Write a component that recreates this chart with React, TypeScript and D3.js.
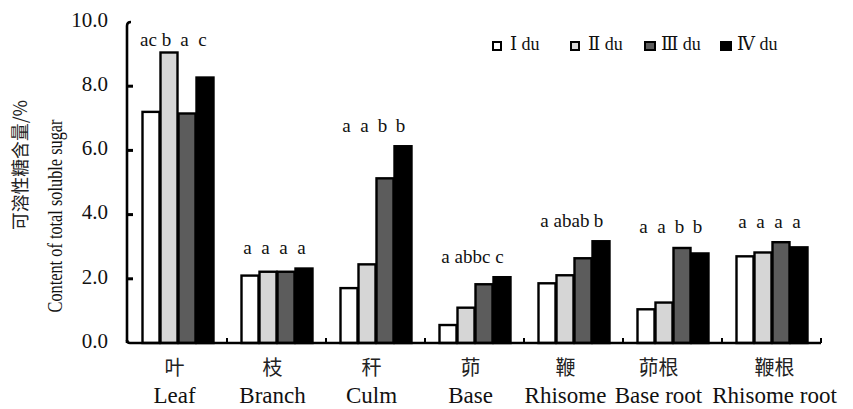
import React from 'react';
import * as d3 from 'd3';

const categories = ['Leaf', 'Branch', 'Culm', 'Base', 'Rhisome', 'Base root', 'Rhisome root'];
const categoriesZh = ['叶', '枝', '秆', '茆', '鞭', '茆根', '鞭根'];
const seriesNames = ['Ⅰ du', 'Ⅱ du', 'Ⅲ du', 'Ⅳ du'];
const seriesColors = ['#ffffff', '#d6d6d6', '#5c5c5c', '#000000'];

const duI = [7.2, 2.1, 1.71, 0.56, 1.86, 1.05, 2.7];
const duII = [9.05, 2.22, 2.45, 1.1, 2.11, 1.26, 2.82];
const duIII = [7.15, 2.22, 5.13, 1.83, 2.64, 2.96, 3.14];
const duIV = [8.27, 2.32, 6.13, 2.05, 3.17, 2.79, 2.98];
const seriesValues = [duI, duII, duIII, duIV];

const letters = [
  ['ac', 'b', 'a', 'c'],
  ['a', 'a', 'a', 'a'],
  ['a', 'a', 'b', 'b'],
  ['a', 'ab', 'bc', 'c'],
  ['a', 'ab', 'ab', 'b'],
  ['a', 'a', 'b', 'b'],
  ['a', 'a', 'a', 'a'],
];

const yTicks = [0, 2, 4, 6, 8, 10];

const width = 853;
const height = 409;
const margin = {top: 22, right: 32, bottom: 66, left: 127};

const serif = '"Liberation Serif", "DejaVu Serif", "Times New Roman", serif';
const cjk = '"Noto Sans CJK SC", sans-serif';

// labels sit a little left of the band centre, the two long ones are pushed apart
const labelNudge = [-3, -4, -4, -4, -8, -14, 3];

export default function App() {
  const x0 = d3.scaleBand<string>()
    .domain(categories)
    .range([margin.left + 1, width - margin.right])
    .padding(0);

  const x1 = d3.scaleBand<string>()
    .domain(seriesNames)
    .range([0, x0.bandwidth()])
    .paddingInner(0)
    .paddingOuter(0.75);

  const y = d3.scaleLinear()
    .domain([0, 10])
    .range([height - margin.bottom, margin.top]);

  const fmt = d3.format('.1f');
  const baseY = y(0);

  return (
    <svg width={width} height={height} style={{position: 'absolute', left: 0, top: 0, background: '#fff'}}>
      {/* bars */}
      {categories.map((c, ci) => (
        <g key={c} transform={`translate(${x0(c)},0)`}>
          {seriesNames.map((s, si) => {
            const v = seriesValues[si][ci];
            return (
              <rect key={s}
                x={x1(s)! + 1}
                y={y(v)}
                width={x1.bandwidth() - 1}
                height={baseY - y(v)}
                fill={seriesColors[si]}
                stroke="#000"
                strokeWidth={2.4}
              />
            );
          })}
          {seriesNames.map((s, si) => {
            const top = d3.max(seriesValues, vals => vals[ci])!;
            const ly = Math.max(y(top) - 19, 42);
            return (
              <text key={s} x={x1(s)! + x1.bandwidth() / 2 - 2} y={ly}
                textAnchor="middle" dominantBaseline="middle"
                fontFamily={serif} fontSize={19} fill="#111">
                {letters[ci][si]}
              </text>
            );
          })}
        </g>
      ))}

      {/* y axis */}
      <path d={`M${margin.left + 4},${margin.top} Q${margin.left},${margin.top} ${margin.left},${margin.top + 4} L${margin.left},${baseY}`}
        fill="none" stroke="#000" strokeWidth={2.6} />
      {yTicks.map(t => (
        <g key={t}>
          {t > 0 && t < 10 && (
            <line x1={margin.left} x2={margin.left + 6} y1={y(t)} y2={y(t)} stroke="#000" strokeWidth={3} />
          )}
          <text x={108} y={y(t)} textAnchor="end" dominantBaseline="middle"
            fontFamily={serif} fontSize={21} fill="#111">{fmt(t)}</text>
        </g>
      ))}

      {/* x axis */}
      <path d={`M${margin.left},${baseY - 3} Q${margin.left},${baseY} ${margin.left + 3},${baseY} L${width - margin.right},${baseY}`}
        fill="none" stroke="#000" strokeWidth={2.6} />
      {categories.map(c => (
        <line key={c} x1={x0(c)! + x0.bandwidth()} x2={x0(c)! + x0.bandwidth()}
          y1={baseY} y2={baseY - 5} stroke="#000" strokeWidth={2} />
      ))}
      {categories.map((c, ci) => (
        <g key={c} transform={`translate(${x0(c)! + x0.bandwidth() / 2 + labelNudge[ci]},0)`}>
          <text y={370} textAnchor="middle" dominantBaseline="middle"
            fontFamily={cjk} fontSize={20} fill="#222">{categoriesZh[ci]}</text>
          <text y={398} textAnchor="middle" dominantBaseline="middle"
            fontFamily={serif} fontSize={23} fill="#111">{c}</text>
        </g>
      ))}

      {/* y title */}
      <text transform={`translate(22,${165}) rotate(-90)`} textAnchor="middle" dominantBaseline="middle"
        fontFamily={cjk} fontSize={18} fill="#222" textLength={130} lengthAdjust="spacingAndGlyphs">可溶性糖含量/%</text>
      <text transform={`translate(57,${216}) rotate(-90)`} textAnchor="middle" dominantBaseline="middle"
        fontFamily={serif} fontSize={20} fill="#111" textLength={193} lengthAdjust="spacingAndGlyphs">Content of total soluble sugar</text>

      {/* legend */}
      {seriesNames.map((s, si) => {
        const lx = [493, 571, 645, 721][si];
        return (
          <g key={s} transform={`translate(${lx},42)`}>
            <rect x={0} y={0} width={si >= 2 ? 10 : 8} height={8} fill={seriesColors[si]} stroke="#000" strokeWidth={2} />
            <text x={si >= 2 ? 16 : 17} y={4} dominantBaseline="middle"
              fontFamily={serif} fontSize={18} fill="#111">{s}</text>
          </g>
        );
      })}
    </svg>
  );
}
